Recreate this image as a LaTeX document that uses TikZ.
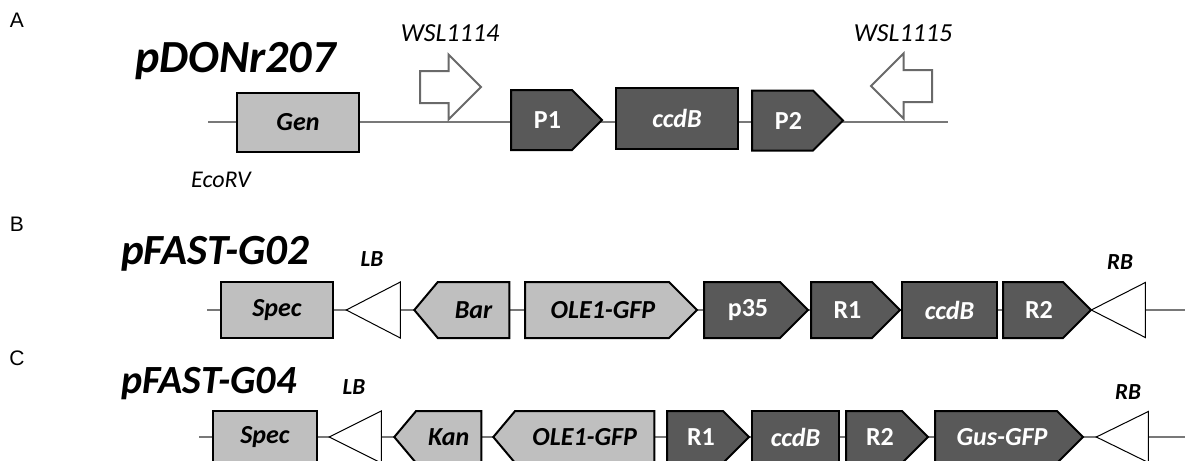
\documentclass[tikz,border=0pt]{standalone}
\usepackage{fontspec}
\setmainfont{Carlito}
\newfontfamily\panelfont{Liberation Sans}
\usetikzlibrary{positioning,shapes.geometric,shapes.symbols,shapes.arrows}
\definecolor{dnagray}{RGB}{120,120,120}
\definecolor{lightgene}{RGB}{191,191,191}
\definecolor{darkgene}{RGB}{89,89,89}
\definecolor{primergray}{RGB}{105,105,105}

\tikzset{
  dnaline/.style={draw=dnagray,line width=1.1pt},
  gene/.style={draw=black,line width=1pt,inner sep=0pt,anchor=west,font=\fontsize{13}{13}\selectfont\bfseries},
  genei/.style={gene,font=\fontsize{13}{13}\selectfont\bfseries\itshape},
  light/.style={fill=lightgene,text=black},
  dark/.style={fill=darkgene,text=white},
  fwd/.style={signal,signal from=nowhere,signal to=east,signal pointer angle=90,
    execute at begin node={\hspace*{6pt}}},
  rev/.style={signal,signal from=nowhere,signal to=west,signal pointer angle=100},
  bordertri/.style={isosceles triangle,isosceles triangle stretches,shape border rotate=180,
    draw=black,line width=0.5pt,fill=white,inner sep=0pt,anchor=apex},
  primer/.style={single arrow,draw=primergray,line width=1pt,fill=white,inner xsep=0pt,inner ysep=7.5pt,
    minimum height=30.5pt,minimum width=31.5pt,single arrow head extend=8.25pt,anchor=tail},
  title/.style={anchor=base west,font=\fontsize{23}{23}\selectfont\bfseries\itshape},
  panel/.style={font=\panelfont\fontsize{10.5}{10.5}\selectfont},
  note/.style={font=\fontsize{13}{13}\selectfont\itshape},
  site/.style={font=\fontsize{11.5}{11.5}\selectfont\bfseries\itshape}
}

\begin{document}
\begin{tikzpicture}[x=0.5pt,y=-0.5pt]
\useasboundingbox (0,0) rectangle (1185,461);
\clip (0,0) rectangle (1185,461);

% A: pDONr207
\node[panel] (pa) at (17,20) {A};
\node[title] (pdonr) at (128,72) {pDONr207};
\coordinate (a0) at (208,122);
\coordinate (a1) at (948,122);
\draw[dnaline] (a0) -- (a1);
\node[genei,light,minimum width=61pt,minimum height=29.5pt] (gen) at (236,122.5) {Gen};
\node[note,font=\fontsize{12}{12}\selectfont\itshape] (ecorv) at (221,180) {EcoRV};
\node[primer] (wslf) at (419,87) {};
\node[note] (wsl4) at (450,33) {WSL1114};
\node[gene,dark,fwd,minimum width=45.5pt,minimum height=30pt] (p1) at (510,120) {P1};
\node[genei,dark,minimum width=61pt,minimum height=30.5pt] (ccdba) at (615,118) {ccdB};
\node[gene,dark,fwd,minimum width=45.5pt,minimum height=30pt] (p2) at (751,120.5) {P2};
\node[primer,shape border rotate=180] (wslr) at (933,86) {};
\node[note] (wsl5) at (903,33) {WSL1115};

% B: pFAST-G02
\node[panel] (pb) at (17,224) {B};
\node[title,font=\fontsize{21.5}{21.5}\selectfont\bfseries\itshape] (g02) at (114,264) {pFAST-G02};
\coordinate (b0) at (207,310);
\coordinate (b1) at (1185,310);
\draw[dnaline] (b0) -- (b1);
\node[genei,light,minimum width=56pt,minimum height=28pt] (specb) at (220,310) {Spec};
\node[bordertri,minimum width=28pt,minimum height=27pt] (lbb) at (345,310) {};
\node[site] (lbbt) at (372,259) {LB};
\node[genei,light,rev,minimum width=47.5pt,minimum height=28pt] (bar) at (413,310) {Bar};
\node[genei,light,fwd,minimum width=86pt,minimum height=28pt] (oleb) at (524,310) {OLE1-GFP};
\node[gene,dark,fwd,minimum width=52pt,minimum height=28pt] (p35) at (703,310) {p35};
\node[gene,dark,fwd,minimum width=44.5pt,minimum height=28pt] (r1b) at (810,310) {R1};
\node[genei,dark,minimum width=47.5pt,minimum height=28pt] (ccdbb) at (901,310) {ccdB};
\node[gene,dark,fwd,minimum width=44pt,minimum height=28pt] (r2b) at (1002,310) {R2};
\node[bordertri,minimum width=27.5pt,minimum height=27pt] (rbb) at (1090,310) {};
\node[site] (rbbt) at (1120,262) {RB};

% C: pFAST-G04
\node[panel] (pc) at (17,358) {C};
\node[title,font=\fontsize{20}{20}\selectfont\bfseries\itshape] (g04) at (114,393) {pFAST-G04};
\coordinate (c0) at (199,437);
\coordinate (c1) at (1185,437);
\draw[dnaline] (c0) -- (c1);
\node[genei,light,minimum width=52pt,minimum height=26pt] (specc) at (212,437) {Spec};
\node[bordertri,minimum width=26pt,minimum height=26pt] (lbc) at (328,437) {};
\node[site] (lbct) at (354,387) {LB};
\node[genei,light,rev,minimum width=43.5pt,minimum height=26pt] (kan) at (393,437) {Kan};
\node[genei,light,rev,minimum width=80.5pt,minimum height=26pt] (olec) at (492,437) {OLE1-GFP};
\node[gene,dark,fwd,minimum width=41pt,minimum height=26pt] (r1c) at (666,437) {R1};
\node[genei,dark,minimum width=43.5pt,minimum height=26pt] (ccdbc) at (751,437) {ccdB};
\node[gene,dark,fwd,minimum width=41pt,minimum height=26pt] (r2c) at (845,437) {R2};
\node[genei,dark,fwd,minimum width=74pt,minimum height=26pt] (gus) at (934,437) {Gus-GFP};
\node[bordertri,minimum width=25.5pt,minimum height=26pt] (rbc) at (1095,437) {};
\node[site] (rbct) at (1128,392) {RB};
\end{tikzpicture}
\end{document}
